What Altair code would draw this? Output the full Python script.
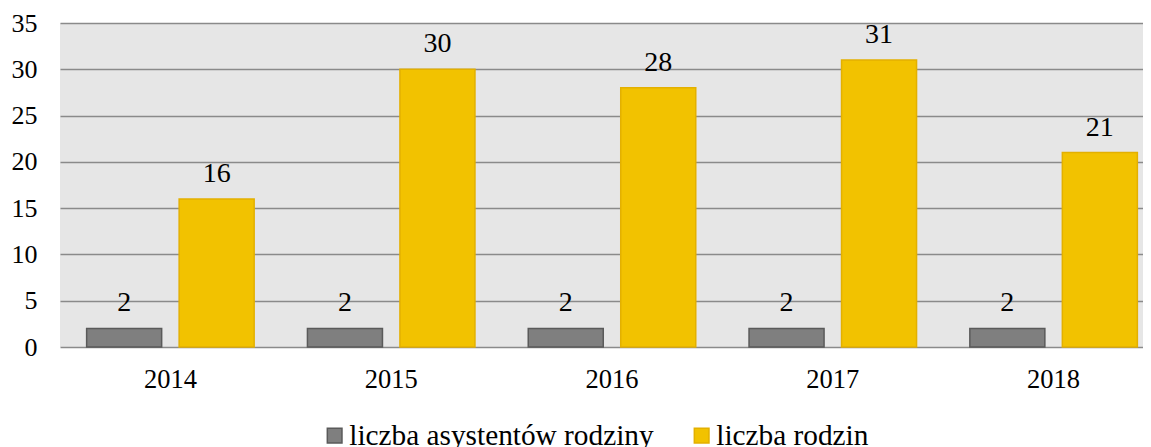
import altair as alt
import pandas as pd

years = ["2014", "2015", "2016", "2017", "2018"]
series_names = ["liczba asystentów rodziny", "liczba rodzin"]
asystenci = [2, 2, 2, 2, 2]
rodziny = [16, 30, 28, 31, 21]
y_ticks = [0, 5, 10, 15, 20, 25, 30, 35]

rows = []
for i, yr in enumerate(years):
    rows.append({"rok": yr, "seria": series_names[0], "wartosc": asystenci[i]})
    rows.append({"rok": yr, "seria": series_names[1], "wartosc": rodziny[i]})
df = pd.DataFrame(rows)

FONT = "Liberation Serif"
fills = ["#7f7f7f", "#f2c200"]
strokes = ["#5a5a5a", "#e3b000"]

legend_cfg = dict(title=None, orient="none", legendX=260, legendY=398,
                  direction="horizontal", symbolType="square",
                  symbolSize=215, symbolStrokeWidth=1.5, padding=0,
                  labelFont=FONT, labelFontSize=29.3, labelColor="#000000",
                  labelOffset=0, columnPadding=33, labelLimit=600)

x_enc = alt.X("rok:N", sort=years,
              scale=alt.Scale(range=[0, 1104], paddingInner=0, paddingOuter=0),
              axis=alt.Axis(title=None, domain=False, ticks=False, tickSize=0,
                            labelAngle=0, labelFont=FONT, labelFontSize=26.5,
                            labelColor="#000000", labelBaseline="alphabetic",
                            labelPadding=40, grid=False))
xoff_enc = alt.XOffset("seria:N", sort=series_names,
                       scale=alt.Scale(domain=series_names, paddingInner=0.189, paddingOuter=0.288))
y_enc = alt.Y("wartosc:Q",
              scale=alt.Scale(domain=[0, 35], nice=False),
              axis=alt.Axis(title=None, values=y_ticks, domain=False, ticks=False, tickSize=0,
                            labelFont=FONT, labelFontSize=26, labelColor="#000000",
                            labelPadding=23, grid=True, gridColor="#8a8a8a",
                            gridWidth=1.7))

bars = alt.Chart(df).mark_bar(strokeWidth=1.5).encode(
    x=x_enc,
    xOffset=xoff_enc,
    y=y_enc,
    color=alt.Color("seria:N", sort=series_names,
                    scale=alt.Scale(domain=series_names, range=fills),
                    legend=alt.Legend(**legend_cfg)),
    stroke=alt.Stroke("seria:N", sort=series_names,
                      scale=alt.Scale(domain=series_names, range=strokes),
                      legend=alt.Legend(**legend_cfg)),
)

labels = alt.Chart(df).mark_text(font=FONT, fontSize=28, color="#000000",
                                 baseline="alphabetic", dy=-17).encode(
    x=alt.X("rok:N", sort=years),
    xOffset=alt.XOffset("seria:N", sort=series_names),
    y=alt.Y("wartosc:Q"),
    text=alt.Text("wartosc:Q"),
)

chart = alt.layer(bars, labels).properties(
    width=1083, height=324,
    autosize=alt.AutoSizeParams(type="none"),
    padding={"left": 52, "top": 15, "right": 0, "bottom": 100},
).configure_view(stroke=None, fill="#e6e6e6")

chart.save("out.html", embed_options={"renderer": "svg", "actions": False})
